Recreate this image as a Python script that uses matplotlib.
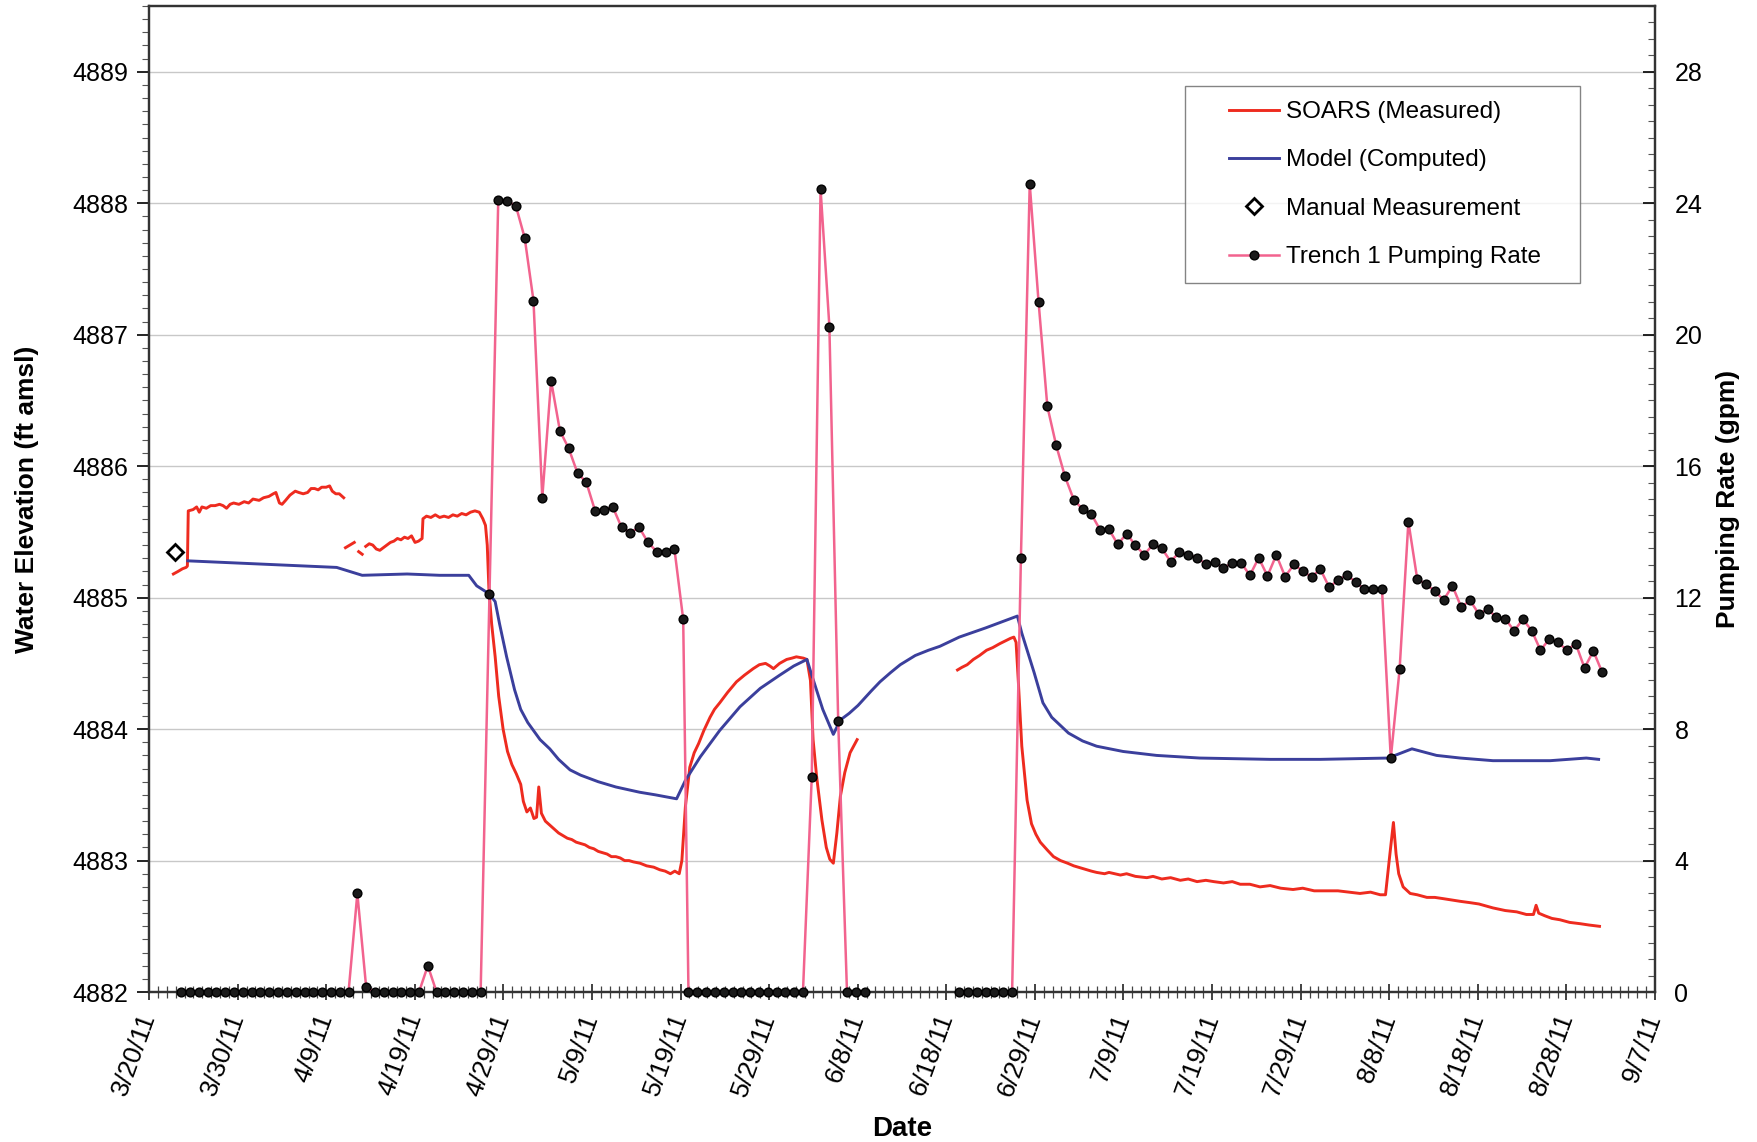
import numpy as np
import matplotlib
matplotlib.use("Agg")
import matplotlib.pyplot as plt
from matplotlib.lines import Line2D
from matplotlib.legend_handler import HandlerLine2D
from matplotlib.ticker import FixedLocator, MultipleLocator

plt.rcParams['font.family'] = ['Liberation Sans', 'DejaVu Sans']

# ---- data (x = days after 3/20/11) ----
date_labels = ['3/20/11', '3/30/11', '4/9/11', '4/19/11', '4/29/11', '5/9/11',
               '5/19/11', '5/29/11', '6/8/11', '6/18/11', '6/29/11', '7/9/11',
               '7/19/11', '7/29/11', '8/8/11', '8/18/11', '8/28/11', '9/7/11']
axis_days = 171.0

# SOARS measured water elevation, ft amsl (separate logger records)
soars_day_1 = [2.76, 3.3, 3.8, 4.2, 4.35, 4.45, 5.0, 5.4, 5.7, 6.0, 6.5, 7.0, 7.5, 8.0,
               8.4, 8.8, 9.2, 9.6, 10.2, 10.8, 11.3, 11.8, 12.5, 13.0, 13.6, 14.1, 14.4,
               14.8, 15.1, 15.5, 16.0, 16.6, 17.0, 17.5, 18.0, 18.4, 18.8, 19.2, 19.6,
               20.1, 20.5, 20.8, 21.2, 21.6, 22.1]
soars_elev_1 = [4885.18, 4885.20, 4885.22, 4885.23, 4885.24, 4885.66, 4885.67, 4885.69,
                4885.65, 4885.69, 4885.68, 4885.70, 4885.70, 4885.71, 4885.70, 4885.68,
                4885.71, 4885.72, 4885.71, 4885.73, 4885.72, 4885.75, 4885.74, 4885.76,
                4885.77, 4885.79, 4885.80, 4885.72, 4885.71, 4885.74, 4885.78, 4885.81,
                4885.80, 4885.79, 4885.80, 4885.83, 4885.83, 4885.82, 4885.84, 4885.84,
                4885.85, 4885.81, 4885.79, 4885.79, 4885.76]
soars_day_2 = [22.3, 22.8, 23.3]
soars_elev_2 = [4885.38, 4885.40, 4885.42]
soars_day_3 = [23.8, 24.2]
soars_elev_3 = [4885.35, 4885.33]
soars_day_4 = [24.6, 25.0, 25.4, 25.8, 26.2, 26.6, 27.0, 27.4, 27.8, 28.2, 28.6, 29.0,
               29.4, 29.8, 30.2, 30.6, 31.0, 31.1, 31.5, 32.0, 32.5, 33.0, 33.5, 34.0,
               34.5, 35.0, 35.5, 36.0, 36.5, 37.0, 37.5, 37.9, 38.2, 38.4, 38.6, 38.9,
               39.3, 39.7, 40.2, 40.7, 41.2, 41.7, 42.2, 42.5, 42.9, 43.3, 43.7, 44.0,
               44.25, 44.55, 45.0, 45.5, 46.0, 46.5, 47.0, 47.5, 48.0, 48.5, 49.0, 49.5,
               50.0, 50.5, 51.0, 51.5, 52.0, 52.5, 53.0, 53.5, 54.0, 54.5, 55.0, 55.75,
               56.5, 57.3, 58.0, 58.6, 59.2, 59.7, 60.2, 60.5, 60.9, 61.4, 61.9, 62.4,
               63.0, 63.7, 64.2, 64.8, 65.7, 66.7, 67.6, 68.6, 69.3, 70.0, 70.5, 70.9,
               71.6, 72.4, 73.0, 73.5, 74.3, 74.7, 75.1, 75.4, 75.8, 76.4, 76.9, 77.3,
               77.7, 78.1, 78.5, 79.0, 79.6, 80.4]
soars_elev_4 = [4885.39, 4885.41, 4885.40, 4885.37, 4885.36, 4885.38, 4885.40, 4885.42,
                4885.43, 4885.45, 4885.44, 4885.46, 4885.45, 4885.47, 4885.42, 4885.43,
                4885.45, 4885.60, 4885.62, 4885.61, 4885.63, 4885.61, 4885.62, 4885.61,
                4885.63, 4885.62, 4885.64, 4885.63, 4885.65, 4885.66, 4885.65, 4885.60,
                4885.55, 4885.40, 4885.05, 4884.80, 4884.55, 4884.25, 4884.00, 4883.83,
                4883.73, 4883.66, 4883.58, 4883.45, 4883.37, 4883.40, 4883.32, 4883.33,
                4883.56, 4883.36, 4883.30, 4883.27, 4883.24, 4883.21, 4883.19, 4883.17,
                4883.16, 4883.14, 4883.13, 4883.12, 4883.10, 4883.09, 4883.07, 4883.06,
                4883.05, 4883.03, 4883.03, 4883.02, 4883.00, 4883.00, 4882.99, 4882.98,
                4882.96, 4882.95, 4882.93, 4882.92, 4882.90, 4882.92, 4882.90, 4883.00,
                4883.41, 4883.71, 4883.82, 4883.89, 4883.99, 4884.09, 4884.15, 4884.20,
                4884.28, 4884.36, 4884.41, 4884.46, 4884.49, 4884.50, 4884.48, 4884.46,
                4884.50, 4884.53, 4884.54, 4884.55, 4884.54, 4884.53, 4884.37, 4883.92,
                4883.64, 4883.31, 4883.10, 4883.01, 4882.98, 4883.21, 4883.49, 4883.67,
                4883.82, 4883.92]
soars_day_5 = [91.8, 92.3, 92.9, 93.6, 94.3, 95.1, 95.8, 96.6, 97.2, 97.8, 98.2, 98.45,
               98.7, 99.1, 99.7, 100.2, 100.7, 101.2, 102.0, 102.7, 103.5, 104.3, 105.0,
               106.0, 107.0, 107.6, 108.5, 109.0, 110.3, 111.0, 112.0, 113.3, 114.0,
               115.0, 116.0, 117.1, 118.0, 119.0, 120.0, 120.9, 122.0, 123.0, 123.9,
               125.0, 126.15, 127.3, 128.5, 129.9, 131.0, 132.3, 133.7, 135.0, 136.2,
               137.5, 138.7, 139.8, 140.4, 140.9, 141.3, 141.6, 141.9, 142.4, 143.2,
               144.0, 145.1, 146.0, 147.0, 148.9, 150.0, 151.0, 152.6, 154.0, 155.3,
               156.4, 157.2, 157.5, 157.8, 158.5, 159.3, 160.2, 161.3, 162.5, 163.5, 164.7]
soars_elev_5 = [4884.45, 4884.47, 4884.49, 4884.53, 4884.56, 4884.60, 4884.62, 4884.65,
                4884.67, 4884.69, 4884.70, 4884.66, 4884.37, 4883.87, 4883.46, 4883.28,
                4883.20, 4883.14, 4883.08, 4883.03, 4883.00, 4882.98, 4882.96, 4882.94,
                4882.92, 4882.91, 4882.90, 4882.91, 4882.89, 4882.90, 4882.88, 4882.87,
                4882.88, 4882.86, 4882.87, 4882.85, 4882.86, 4882.84, 4882.85, 4882.84,
                4882.83, 4882.84, 4882.82, 4882.82, 4882.80, 4882.81, 4882.79, 4882.78,
                4882.79, 4882.77, 4882.77, 4882.77, 4882.76, 4882.75, 4882.76, 4882.74,
                4882.74, 4883.05, 4883.29, 4883.05, 4882.90, 4882.80, 4882.75, 4882.74,
                4882.72, 4882.72, 4882.71, 4882.69, 4882.68, 4882.67, 4882.64, 4882.62,
                4882.61, 4882.59, 4882.59, 4882.66, 4882.60, 4882.58, 4882.56, 4882.55,
                4882.53, 4882.52, 4882.51, 4882.50]

# Model computed water elevation, ft amsl
model_day = [4.4, 21.3, 24.2, 29.3, 33.0, 36.3, 37.2, 38.6, 39.3, 39.8, 40.6, 41.5, 42.2,
             43.0, 44.4, 45.5, 46.5, 47.8, 49.0, 51.0, 53.0, 55.7, 57.5, 59.9, 60.9, 62.6,
             64.8, 67.1, 69.4, 71.6, 73.2, 74.7, 75.3, 76.5, 77.7, 78.5, 79.5, 80.5, 82.0,
             83.0, 84.2, 85.3, 87.0, 88.5, 89.8, 92.0, 95.0, 98.6, 99.1, 100.5, 101.5,
             102.5, 104.4, 106.0, 107.6, 110.6, 114.4, 119.3, 127.3, 133.0, 140.7, 143.4,
             146.2, 148.9, 152.6, 159.1, 163.2, 164.6]
model_elev = [4885.28, 4885.23, 4885.17, 4885.18, 4885.17, 4885.17, 4885.09, 4885.03,
              4884.97, 4884.80, 4884.55, 4884.30, 4884.15, 4884.05, 4883.92, 4883.85,
              4883.77, 4883.69, 4883.65, 4883.60, 4883.56, 4883.52, 4883.50, 4883.47,
              4883.61, 4883.79, 4883.99, 4884.17, 4884.31, 4884.41, 4884.48, 4884.53,
              4884.40, 4884.15, 4883.96, 4884.07, 4884.12, 4884.18, 4884.29, 4884.36,
              4884.43, 4884.49, 4884.56, 4884.60, 4884.63, 4884.70, 4884.77, 4884.86,
              4884.73, 4884.43, 4884.20, 4884.09, 4883.97, 4883.91, 4883.87, 4883.83,
              4883.80, 4883.78, 4883.77, 4883.77, 4883.78, 4883.85, 4883.80, 4883.78,
              4883.76, 4883.76, 4883.78, 4883.77]

# Manual measurement
manual_day = [2.9]
manual_elev = [4885.35]

# Trench 1 daily pumping rate, gpm (three record blocks, first day of each block)
pump_start_1 = 3.65
pump_rate_1 = [0] * 20 + [3.0, 0.15] + [0] * 6 + [0.8] + [0] * 6 + [
    12.1, 24.1, 24.07, 23.92, 22.95, 21.04, 15.04, 18.6, 17.08, 16.54, 15.79, 15.51,
    14.64, 14.66, 14.76, 14.14, 13.98, 14.14, 13.68, 13.40, 13.40, 13.49, 11.34]
pump_start_2 = 61.25
pump_rate_2 = [0] * 14 + [6.55, 24.43, 20.25, 8.26, 0, 0, 0]
pump_start_3 = 92.0
pump_rate_3 = [0] * 7 + [
    13.21, 24.59, 21.01, 17.82, 16.64, 15.69, 14.98, 14.69, 14.54, 14.06, 14.08, 13.62,
    13.95, 13.59, 13.31, 13.62, 13.5, 13.1, 13.38, 13.31, 13.21, 13.03, 13.08, 12.9,
    13.06, 13.06, 12.68, 13.21, 12.66, 13.3, 12.64, 13.01, 12.81, 12.63, 12.87, 12.32,
    12.53, 12.69, 12.48, 12.25, 12.25, 12.27, 7.11, 9.82, 14.31, 12.57, 12.41, 12.2,
    11.93, 12.36, 11.71, 11.92, 11.5, 11.65, 11.4, 11.36, 10.99, 11.34, 11.0, 10.4,
    10.74, 10.64, 10.4, 10.6, 9.86, 10.38, 9.73]

# ---- styling ----
RED = '#ee2b1f'
BLUE = '#3b3f9c'
PINK = '#f2638e'
TICK_FS = 18


class OffsetLineHandler(HandlerLine2D):
    """Legend line handler that leaves blank space to the left of the sample."""

    def __init__(self, lead=0.38, **kw):
        super().__init__(**kw)
        self.lead = lead

    def create_artists(self, legend, orig_handle, xdescent, ydescent, width, height,
                       fontsize, trans):
        shift = width * self.lead
        return super().create_artists(legend, orig_handle, xdescent - shift, ydescent,
                                      width - shift, height, fontsize, trans)


fig = plt.figure(figsize=(17.58, 11.42), dpi=100)
ax = fig.add_axes([0.0848, 0.1313, 0.9414 - 0.0848, 0.9947 - 0.1313])
ax2 = ax.twinx()


def joined(days_list, vals_list):
    xs, ys = [], []
    for d, v in zip(days_list, vals_list):
        xs += list(d) + [np.nan]
        ys += list(v) + [np.nan]
    return np.array(xs), np.array(ys)


sx, sy = joined([soars_day_1, soars_day_2, soars_day_3, soars_day_4, soars_day_5],
                [soars_elev_1, soars_elev_2, soars_elev_3, soars_elev_4, soars_elev_5])
ax.plot(sx, sy, color=RED, lw=2.1, zorder=3)
ax.plot(model_day, model_elev, color=BLUE, lw=2.1, zorder=3)
ax.plot(manual_day, manual_elev, linestyle='none', marker='D', ms=8.5,
        mfc='white', mec='black', mew=2.0, zorder=4)

# pumping blocks 1 and 2 are contiguous; block 3 follows a data gap
p1x = pump_start_1 + np.arange(len(pump_rate_1))
p2x = pump_start_2 + np.arange(len(pump_rate_2))
p3x = pump_start_3 + np.arange(len(pump_rate_3))
px = np.concatenate([p1x, p2x, [np.nan], p3x])
py = np.concatenate([pump_rate_1, pump_rate_2, [np.nan], pump_rate_3])
ax2.plot(px, py, color=PINK, lw=1.8, marker='o', ms=6.3, mfc='#1a1a1a',
         mec='#000000', mew=1.0, zorder=3, clip_on=False)

# ---- axes ----
ax.set_xlim(0, axis_days)
ax.set_ylim(4882, 4889.5)
ax2.set_ylim(0, 30)

major_x = np.linspace(0, axis_days, len(date_labels))
ax.xaxis.set_major_locator(FixedLocator(major_x))
ax.set_xticklabels(date_labels, rotation=70, ha='right', va='center',
                   rotation_mode='anchor', fontsize=19)
minor_x = np.linspace(0, axis_days, (len(date_labels) - 1) * 10 + 1)
ax.xaxis.set_minor_locator(FixedLocator(minor_x))
ax.tick_params(axis='x', which='major', direction='inout', length=12, width=1.2,
               pad=10, colors='#222222', labelcolor='black')
ax.tick_params(axis='x', which='minor', direction='inout', length=8, width=0.9,
               colors='#444444')

ax.set_yticks(np.arange(4882, 4890, 1))
ax.set_yticklabels([str(v) for v in range(4882, 4890)], fontsize=TICK_FS)
ax.yaxis.set_minor_locator(MultipleLocator(0.1))
ax.tick_params(axis='y', which='major', direction='out', length=9, width=1.2, pad=6)
ax.tick_params(axis='y', which='minor', direction='out', length=5, width=0.8,
               colors='#555555')

ax2.set_yticks(np.arange(0, 29, 4))
ax2.set_yticklabels([str(v) for v in range(0, 29, 4)], fontsize=TICK_FS)
ax2.yaxis.set_minor_locator(MultipleLocator(0.5))
ax2.tick_params(axis='y', which='major', direction='in', length=9, width=1.2, pad=14)
ax2.tick_params(axis='y', which='minor', direction='in', length=5, width=0.8,
                colors='#555555')

ax.grid(axis='y', which='major', color='#c8c8c8', lw=1.0)
ax.set_axisbelow(True)
for a in (ax, ax2):
    for s in a.spines.values():
        s.set_color('#333333')
        s.set_linewidth(1.6)

ax.set_ylabel('Water Elevation (ft amsl)', fontsize=19, fontweight='bold', labelpad=24)
ax2.set_ylabel('Pumping Rate (gpm)', fontsize=19, fontweight='bold', labelpad=10)
ax.set_xlabel('Date', fontsize=20, fontweight='bold', labelpad=12)

# ---- legend ----
handles = [
    Line2D([], [], color=RED, lw=2.1),
    Line2D([], [], color=BLUE, lw=2.1),
    Line2D([], [], linestyle='none', marker='D', ms=8.5, mfc='white', mec='black', mew=2.0),
    Line2D([], [], color=PINK, lw=1.8, marker='o', ms=6.3, mfc='#1a1a1a', mec='#000000'),
]
labels = ['SOARS (Measured)', 'Model (Computed)', 'Manual Measurement',
          'Trench 1 Pumping Rate']
leg_w = 0.2627
leg_h = 0.197
leg = ax2.legend(handles, labels, loc='upper left',
                 bbox_to_anchor=(0.6877, 0.9185 - leg_h, leg_w, leg_h), mode='expand',
                 fontsize=17.5, frameon=True, fancybox=False, edgecolor='#666666',
                 handlelength=3.27, handletextpad=0.28, labelspacing=1.085,
                 borderpad=0.6, borderaxespad=0.0,
                 handler_map={Line2D: OffsetLineHandler(lead=0.38)})
leg.get_frame().set_linewidth(1.0)
leg.set_zorder(10)

fig.savefig('out.png', dpi=100, facecolor='white')
